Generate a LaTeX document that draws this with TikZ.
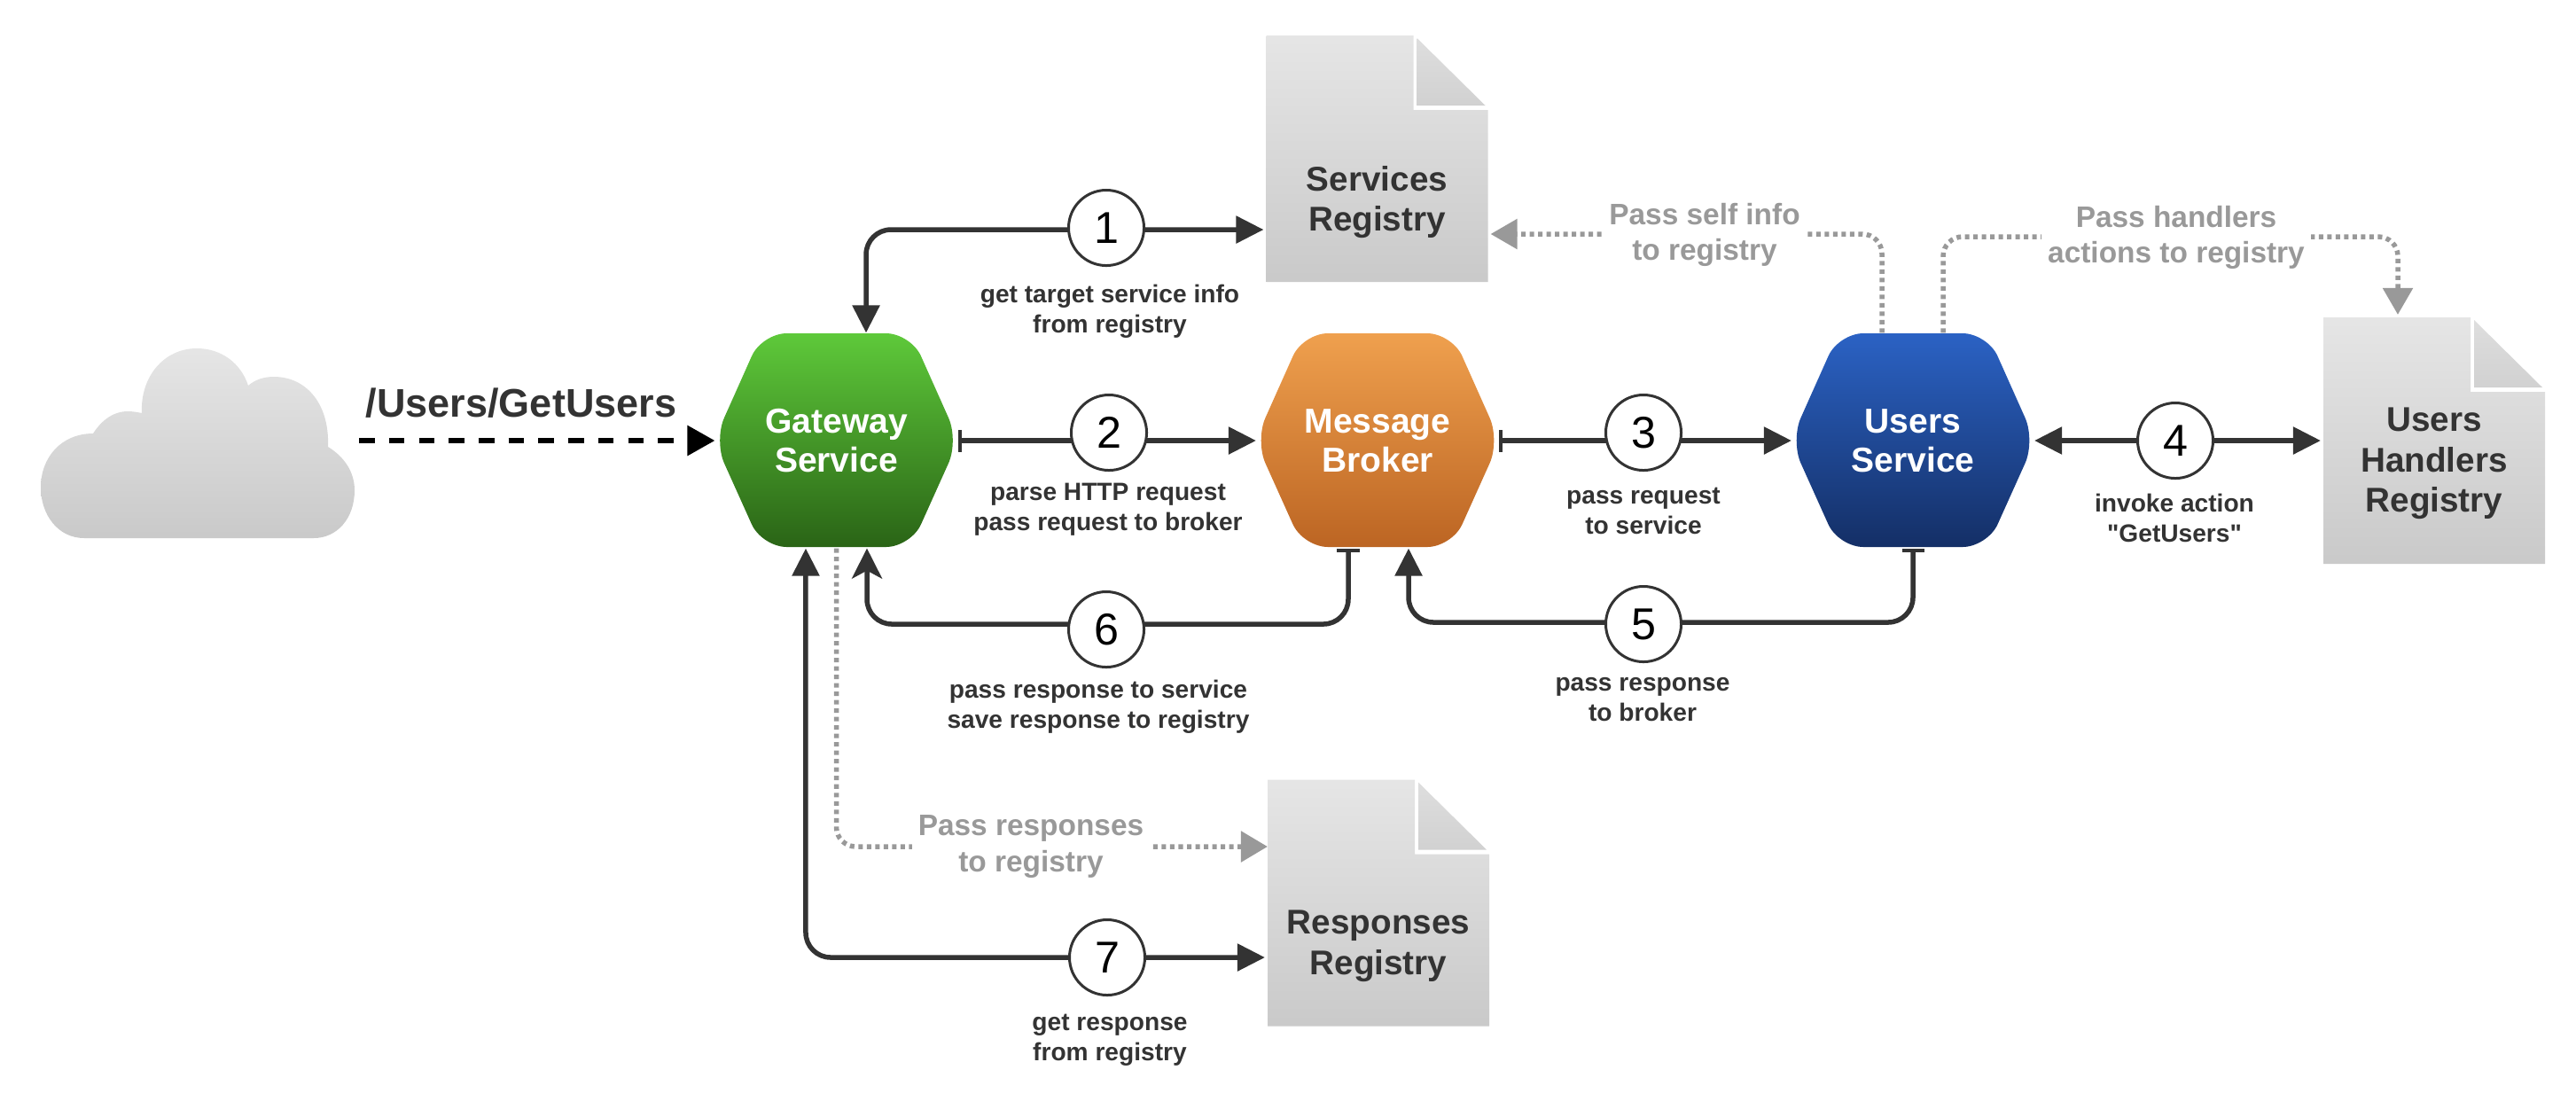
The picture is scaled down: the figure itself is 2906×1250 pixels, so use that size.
\documentclass[tikz,border=0pt]{standalone}
\usepackage{fontspec}
\setmainfont{Liberation Sans}
\newfontfamily\straightfont{Liberation Sans}
\usetikzlibrary{arrows.meta}
\definecolor{linedark}{HTML}{333333}
\definecolor{linegray}{HTML}{999999}
\definecolor{gatewaytop}{HTML}{5EC93A}
\definecolor{gatewaybot}{HTML}{2A6416}
\definecolor{brokertop}{HTML}{EFA04E}
\definecolor{brokerbot}{HTML}{BC6523}
\definecolor{userstop}{HTML}{2B62C4}
\definecolor{usersbot}{HTML}{142F66}
\tikzset{
	hexbox/.style={minimum width=2.64cm,minimum height=2.41cm,outer xsep=0.05cm,outer ysep=0.01cm,inner sep=0pt,align=center,text=white,font=\fontsize{11.1}{12.5}\selectfont\bfseries},
	docbox/.style={minimum width=2.5cm,minimum height=2.78cm,outer sep=0.03cm,inner sep=0pt},
	docname/.style={align=center,inner sep=0pt,text=linedark,font=\fontsize{11}{13}\selectfont\bfseries},
	stepcircle/.style={circle,draw=linedark,line width=0.03cm,fill=white,minimum size=0.85cm,inner sep=0pt,font=\fontsize{14.3}{16}\selectfont},
	steplabel/.style={align=center,inner sep=0pt,text=linedark,font=\fontsize{8}{9.7}\selectfont\bfseries},
	graylabel/.style={align=center,fill=white,inner xsep=0.07cm,inner ysep=0pt,text=linegray,font=\fontsize{9.5}{11.6}\selectfont\bfseries},
	link/.style={draw=linedark,line width=0.055cm,rounded corners=0.28cm},
	linkhead/.tip={Triangle[length=0.31cm,width=0.3cm]},
	linkbar/.tip={Bar[width=0.25cm,line width=0.04cm]},
	graylink/.style={draw=linegray,line width=0.055cm,rounded corners=0.22cm,dash pattern=on 0.05cm off 0.045cm}
}
\begin{document}
\begin{tikzpicture}[x=0.01cm,y=-0.01cm,line join=round]
	\useasboundingbox (0,0) rectangle (2906,1250);
	\shade[top color=black!10,bottom color=black!21] (95,607) .. controls (65,607) and (46,580) .. (46,550) .. controls (46,515) and (70,489) .. (105,489) .. controls (112,478) and (125,464) .. (144,464) .. controls (150,464) and (155,465) .. (160,466) .. controls (158,425) and (185,393) .. (222,393) .. controls (250,393) and (272,410) .. (280,435) .. controls (288,428) and (298,425) .. (309,425) .. controls (345,425) and (372,455) .. (370,504) .. controls (388,515) and (400,532) .. (400,553) .. controls (400,585) and (380,607) .. (354,607) -- cycle;
	\node[minimum width=3.54cm,minimum height=2.14cm,outer sep=0.05cm,inner sep=0pt] (cloud) at (223,500) {};
	\foreach \name/\cx/\topcol/\botcol/\lbl in {gateway/943.5/gatewaytop/gatewaybot/{Gateway\\Service},broker/1554/brokertop/brokerbot/{Message\\Broker},users/2158/userstop/usersbot/{Users\\Service}}{
		\shade[top color=\topcol,bottom color=\botcol,rounded corners=0.28cm] (\cx-84,376) -- (\cx+84,376) -- (\cx+138,497) -- (\cx+84,617) -- (\cx-84,617) -- (\cx-138,497) -- cycle;
		\node[hexbox] (\name) at (\cx,497) {\lbl};
	}
	\foreach \name/\cx/\cy/\shift/\lbl in {services/1553.5/179/-0.49/{Services\\Registry},handlers/2746/497/-0.26/{Users\\Handlers\\Registry},responses/1555/1018.5/-0.49/{Responses\\Registry}}{
		\shade[top color=black!10,bottom color=black!21] (\cx-125,\cy-139) -- (\cx+41,\cy-139) -- (\cx+41,\cy-55) -- (\cx+125,\cy-55) -- (\cx+125,\cy+139) -- (\cx-125,\cy+139) -- cycle;
		\shade[top color=black!13,bottom color=black!18] (\cx+45,\cy-136) -- (\cx+122,\cy-60) -- (\cx+45,\cy-60) -- cycle;
		\node[docbox,label={[docname,yshift=\shift cm]center:\lbl}] (\name) at (\cx,\cy) {};
	}
	\coordinate (bendfive) at (1855,702);
	\coordinate (bendsix) at (1248,704);
	\draw[black,line width=0.06cm,dash pattern=on 0.175cm off 0.162cm,-{Triangle[length=0.31cm,width=0.33cm]}] (cloud.east |- gateway.west) -- (gateway.west);
	\draw[link,{linkhead}-{linkhead}] ([xshift=0.335cm]gateway.north) |- ([yshift=-0.8cm]services.west);
	\draw[link,{linkbar}-{linkhead}] (gateway.east) -- (broker.west);
	\draw[link,{linkbar}-{linkhead}] (broker.east) -- (users.west);
	\draw[link,{linkhead}-{linkhead}] (users.east) -- (handlers.west);
	\draw[link,{linkbar}-{linkhead}] (users.south) |- (bendfive) -| ([xshift=0.35cm]broker.south);
	\draw[link,{linkbar}-{Stealth[length=0.34cm,width=0.34cm,inset=0.09cm]}] ([xshift=-0.33cm]broker.south) |- (bendsix) -| ([xshift=0.345cm]gateway.south);
	\draw[link,{linkhead}-{linkhead}] ([xshift=-0.345cm]gateway.south) |- (responses.west |- 0,1080);
	\draw[graylink,shorten >=-0.03cm,-{Triangle[length=0.3cm,width=0.34cm]}] (gateway.south) |- (responses.west |- 0,955);
	\draw[graylink,-{Triangle[length=0.3cm,width=0.33cm]}] ([xshift=-0.35cm]users.north) |- (services.east |- 0,264);
	\draw[graylink,-{Triangle[length=0.3cm,width=0.33cm]}] ([xshift=0.34cm]users.north) |- (2705,267) -- ([xshift=-0.41cm]handlers.north);
	\foreach \name/\cx/\cy/\num in {stepone/1248/257/1,steptwo/1251/488/2,stepthree/1854/488/3,stepfour/2454/497/4,stepfive/1854/704/5,stepsix/1248/710/6,stepseven/1249/1080/7}
		\node[stepcircle] (\name) at (\cx,\cy) {\num};
	\foreach \name/\cx/\cy/\lbl in {labelone/1252/351/{get target service info\\from registry},labeltwo/1250/575/{parse HTTP request\\pass request to broker},labelthree/1854/576/{pass request\\to service},labelfour/2453/584/{invoke action\\{\straightfont\bfseries "GetUsers"}},labelfive/1853/789/{pass response\\to broker},labelsix/1239/797/{pass response to service\\save response to registry},labelseven/1252/1173/{get response\\from registry}}
		\node[steplabel] (\name) at (\cx,\cy) {\lbl};
	\foreach \name/\cx/\cy/\lbl in {grayself/1923/265/{Pass self info\\to registry},grayhandlers/2455/268/{Pass handlers\\actions to registry},grayresponses/1163/955/{Pass responses\\to registry}}
		\node[graylabel] (\name) at (\cx,\cy) {\lbl};
	\node[text=linedark,inner sep=0pt,font=\fontsize{12.8}{15}\selectfont\bfseries] (urltext) at (588,455) {/Users/GetUsers};
\end{tikzpicture}
\end{document}
